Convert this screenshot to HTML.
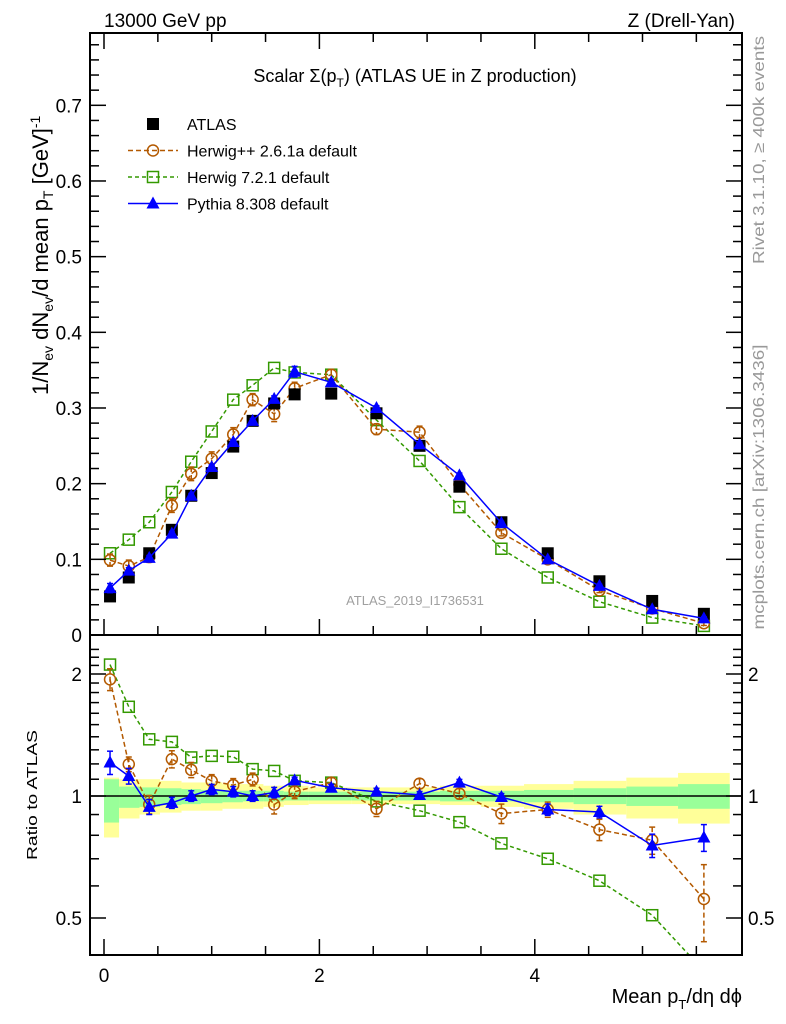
<!DOCTYPE html>
<html><head><meta charset="utf-8"><style>
body{margin:0;background:#fff}
svg{display:block;font-family:"Liberation Sans",Arial,sans-serif}
</style></head><body>
<svg id="chart" width="786" height="1024" viewBox="0 0 786 1024" xmlns="http://www.w3.org/2000/svg">
<defs>
<clipPath id="clipMain"><rect x="90" y="33" width="652" height="602"/></clipPath>
<clipPath id="clipRatio"><rect x="90" y="635" width="652" height="320"/></clipPath>
</defs>
<g id="bands" clip-path="url(#clipRatio)"></g>
<g id="ratioMarks" clip-path="url(#clipRatio)"></g>
<g id="mainMarks" clip-path="url(#clipMain)"></g>
<g id="axes"></g>
<text x="104" y="27" font-size="19">13000 GeV pp</text>
<text x="735" y="27" font-size="19" text-anchor="end">Z (Drell-Yan)</text>
<text x="415" y="82" font-size="18" text-anchor="middle">Scalar Σ(p<tspan font-size="12" dy="5">T</tspan><tspan dy="-5">) (ATLAS UE in Z production)</tspan></text>
<text x="415" y="605" font-size="13" fill="#a0a0a0" text-anchor="middle">ATLAS_2019_I1736531</text>
<text transform="translate(764,150) rotate(-90)" font-size="16" fill="#999" text-anchor="middle" textLength="228" lengthAdjust="spacingAndGlyphs">Rivet 3.1.10, ≥ 400k events</text>
<text transform="translate(764,487) rotate(-90)" font-size="16" fill="#999" text-anchor="middle" textLength="285" lengthAdjust="spacingAndGlyphs">mcplots.cern.ch [arXiv:1306.3436]</text>
<text transform="translate(48,395) rotate(-90)" font-size="22">1/N<tspan font-size="14" dy="5">ev</tspan><tspan dy="-5"> dN</tspan><tspan font-size="14" dy="5">ev</tspan><tspan dy="-5">/d mean p</tspan><tspan font-size="14" dy="5">T</tspan><tspan dy="-5"> [GeV]</tspan><tspan font-size="14" dy="-8">-1</tspan></text>
<text transform="translate(37,795) rotate(-90)" font-size="15" text-anchor="middle" textLength="130" lengthAdjust="spacingAndGlyphs">Ratio to ATLAS</text>
<text x="742" y="1003" font-size="20" text-anchor="end">Mean p<tspan font-size="13" dy="6">T</tspan><tspan dy="-6">/dη dϕ</tspan></text>
<g id="legend"></g>
</svg>
<script>
const xCenters=[0.056,0.23,0.42,0.63,0.81,1.0,1.2,1.38,1.58,1.77,2.11,2.53,2.93,3.3,3.69,4.12,4.6,5.09,5.57];
const binEdges=[0,0.14,0.33,0.52,0.72,0.9,1.1,1.29,1.48,1.67,1.9,2.3,2.73,3.12,3.5,3.9,4.36,4.85,5.33,5.81];
const atlasVals=[0.051,0.076,0.108,0.139,0.184,0.214,0.249,0.283,0.306,0.318,0.319,0.293,0.25,0.196,0.149,0.108,0.071,0.045,0.028];
const herwigppVals=[0.099,0.091,0.103,0.171,0.213,0.233,0.265,0.311,0.292,0.326,0.344,0.272,0.268,0.199,0.135,0.100,0.059,0.035,0.0156];
const herwig7Vals=[0.108,0.126,0.149,0.189,0.229,0.269,0.311,0.330,0.353,0.347,0.344,0.284,0.23,0.169,0.114,0.076,0.044,0.023,0.012];
const pythiaVals=[0.062,0.085,0.102,0.134,0.184,0.222,0.255,0.283,0.312,0.348,0.334,0.30,0.252,0.211,0.148,0.100,0.065,0.034,0.022];
const herwigppErr=[0.008,0.008,0.007,0.009,0.009,0.009,0.009,0.008,0.01,0.008,0.007,0.007,0.008,0.005,0.004,0.003,0.003,0.002,0.003];
const pythiaErr=[0.006,0.004,0.003,0.003,0.003,0.003,0.003,0.003,0.004,0.007,0.004,0.003,0.003,0.003,0.002,0.002,0.002,0.002,0.002];
const ratioHerwigpp=[1.94,1.198,0.953,1.233,1.16,1.089,1.064,1.099,0.953,1.025,1.079,0.93,1.073,1.013,0.905,0.926,0.826,0.778,0.557];
const ratioHerwig7=[2.11,1.66,1.38,1.36,1.245,1.256,1.25,1.165,1.153,1.09,1.079,0.97,0.92,0.862,0.764,0.70,0.618,0.508,0.37];
const ratioPythia=[1.21,1.12,0.94,0.962,1.0,1.038,1.025,1.0,1.02,1.093,1.048,1.025,1.006,1.079,0.994,0.926,0.913,0.755,0.79];
const ratioErrHpp=[0.12,0.05,0.05,0.06,0.05,0.04,0.04,0.04,0.05,0.04,0.03,0.04,0.03,0.03,0.05,0.04,0.05,0.06,0.12];
const ratioErrPy=[0.08,0.05,0.04,0.03,0.03,0.03,0.03,0.03,0.03,0.02,0.02,0.02,0.02,0.02,0.02,0.03,0.03,0.05,0.06];
const yellowHi=[1.11,1.1,1.1,1.09,1.08,1.08,1.07,1.07,1.06,1.06,1.05,1.05,1.05,1.06,1.06,1.07,1.09,1.11,1.14];
const yellowLo=[0.79,0.88,0.9,0.91,0.92,0.92,0.93,0.93,0.94,0.95,0.955,0.955,0.955,0.95,0.94,0.93,0.9,0.88,0.855];
const greenHi=[1.1,1.055,1.05,1.045,1.04,1.035,1.03,1.03,1.03,1.025,1.025,1.025,1.025,1.03,1.03,1.035,1.045,1.055,1.07];
const greenLo=[0.86,0.935,0.94,0.95,0.955,0.96,0.965,0.97,0.97,0.975,0.975,0.975,0.975,0.97,0.97,0.965,0.955,0.945,0.93];
const mainTicks=["0","0.1","0.2","0.3","0.4","0.5","0.6","0.7"];
const xTickLabels=["0","2","4"];
const ratioTickLabels=["0.5","1","2"];

const NS="http://www.w3.org/2000/svg";
function X(v){return 104+v*107.7;}
function Y(v){return 635-v*756.7;}
function R(v){return 796-Math.log2(v)*122;}
function mk(tag,attrs,parent){const e=document.createElementNS(NS,tag);for(const k in attrs)e.setAttribute(k,attrs[k]);parent.appendChild(e);return e;}
const axes=document.getElementById('axes'),mainG=document.getElementById('mainMarks'),ratG=document.getElementById('ratioMarks'),bands=document.getElementById('bands'),leg=document.getElementById('legend');

for(let i=0;i<xCenters.length;i++){
  const x0=X(binEdges[i]),x1=X(binEdges[i+1]);
  const y=mk('rect',{x:x0,y:R(yellowHi[i]),width:x1-x0,height:R(yellowLo[i])-R(yellowHi[i]),fill:'#ffff99'},bands);
  
  
  const g=mk('rect',{x:x0,y:R(greenHi[i]),width:x1-x0,height:R(greenLo[i])-R(greenHi[i]),fill:'#99ff99'},bands);
  
  
}
const one=mk('line',{x1:90,x2:742,y1:R(1),y2:R(1),stroke:'#000','stroke-width':1.5},bands);



function marker(type,cx,cy,color,parent){
  let e;
  if(type==='sq') e=mk('rect',{x:cx-6,y:cy-6,width:12,height:12,fill:'#000'},parent);
  else if(type==='osq') e=mk('rect',{x:cx-5.5,y:cy-5.5,width:11,height:11,fill:'none',stroke:color,'stroke-width':1.5},parent);
  else if(type==='circ') e=mk('circle',{cx:cx,cy:cy,r:5.5,fill:'none',stroke:color,'stroke-width':1.5},parent);
  else e=mk('polygon',{points:`${cx},${cy-7} ${cx-6.5},${cy+5} ${cx+6.5},${cy+5}`,fill:color},parent);
  return e;
}
function series(vals,errs,xf,yf,color,dash,type,parent,name,low){
  let d='';
  vals.forEach((v,i)=>{d+=(i?'L':'M')+X(xCenters[i]).toFixed(1)+','+yf(v).toFixed(1);});
  if(type!=='sq'){const p=mk('path',{d:d,fill:'none',stroke:color,'stroke-width':1.5,'stroke-dasharray':dash},parent);
  
  }
  vals.forEach((v,i)=>{
    const cx=X(xCenters[i]),cy=yf(v);
    if(errs){const e=errs[i];const lo=Math.max(v-e,low);
      const l=mk('line',{x1:cx,x2:cx,y1:yf(v+e),y2:yf(lo),stroke:color,'stroke-width':1.5,'stroke-dasharray':dash},parent);
      
      
      mk('line',{x1:cx-3,x2:cx+3,y1:yf(v+e),y2:yf(v+e),stroke:color,'stroke-width':1.5},parent);
      mk('line',{x1:cx-3,x2:cx+3,y1:yf(lo),y2:yf(lo),stroke:color,'stroke-width':1.5},parent);}
    const m=marker(type,cx,cy,color,parent);
    
    
  });
}
series(herwig7Vals,null,X,Y,'#339900','4,3','osq',mainG,'herwig7');
series(herwigppVals,herwigppErr,X,Y,'#b35900','5,3','circ',mainG,'herwigpp',0);
series(atlasVals,null,X,Y,'#000','','sq',mainG,'atlas');
series(pythiaVals,pythiaErr,X,Y,'#0000ff','','tri',mainG,'pythia',0);
series(ratioHerwig7,null,X,R,'#339900','4,3','osq',ratG,'ratio-herwig7');
series(ratioHerwigpp,ratioErrHpp,X,R,'#b35900','5,3','circ',ratG,'ratio-herwigpp',0.01);
series(ratioPythia,ratioErrPy,X,R,'#0000ff','','tri',ratG,'ratio-pythia',0.01);

const f1=mk('rect',{x:90,y:33,width:652,height:602,fill:'none',stroke:'#000','stroke-width':2},axes);


const f2=mk('rect',{x:90,y:635,width:652,height:320,fill:'none',stroke:'#000','stroke-width':2},axes);


for(let k=0;k<=39;k++){const v=k*0.02;const y=Y(v);if(y<34)break;const maj=k%5===0;const L=maj?16:9;
  mk('line',{x1:90,x2:90+L,y1:y,y2:y,stroke:'#000','stroke-width':1.5},axes);
  mk('line',{x1:742,x2:742-L,y1:y,y2:y,stroke:'#000','stroke-width':1.5},axes);}
mainTicks.forEach((t,i)=>{const e=mk('text',{x:82,y:Y(i*0.1)+7,'font-size':19,'text-anchor':'end'},axes);e.textContent=t;
  
  });
for(let k=0;k<=11;k++){const v=k*0.5;const x=X(v);const maj=k%4===0;const L=maj?16:9;
  [[635,-1],[33,1],[955,-1]].forEach(([y0,s])=>mk('line',{x1:x,x2:x,y1:y0,y2:y0+s*L,stroke:'#000','stroke-width':1.5},axes));}
xTickLabels.forEach((t,i)=>{const e=mk('text',{x:X(i*2),y:982,'font-size':19,'text-anchor':'middle'},axes);e.textContent=t;
  
  });
for(let k=4;k<=23;k++){const v=k/10;const y=R(v);if(y<636||y>954)continue;const maj=(k===5||k===10||k===20);const L=maj?16:9;
  mk('line',{x1:90,x2:90+L,y1:y,y2:y,stroke:'#000','stroke-width':1.5},axes);
  mk('line',{x1:742,x2:742-L,y1:y,y2:y,stroke:'#000','stroke-width':1.5},axes);}
[0.5,1,2].forEach((v,i)=>{const a=mk('text',{x:82,y:R(v)+7,'font-size':19,'text-anchor':'end'},axes);a.textContent=ratioTickLabels[i];
  
  
  const b=mk('text',{x:748,y:R(v)+7,'font-size':19},axes);b.textContent=ratioTickLabels[i];
  
  });
const items=[['ATLAS','sq','#000',''],['Herwig++ 2.6.1a default','circ','#b35900','5,3'],['Herwig 7.2.1 default','osq','#339900','4,3'],['Pythia 8.308 default','tri','#0000ff','']];
items.forEach((it,i)=>{const y=124+i*26.5;
  if(it[1]!=='sq') mk('line',{x1:128,x2:178,y1:y,y2:y,stroke:it[2],'stroke-width':1.5,'stroke-dasharray':it[3]},leg);
  const m=marker(it[1],153,y,it[2],leg);
  
  
  const t=mk('text',{x:187,y:y+6,'font-size':16},leg);t.textContent=it[0];
  
  });
</script>
</body></html>
